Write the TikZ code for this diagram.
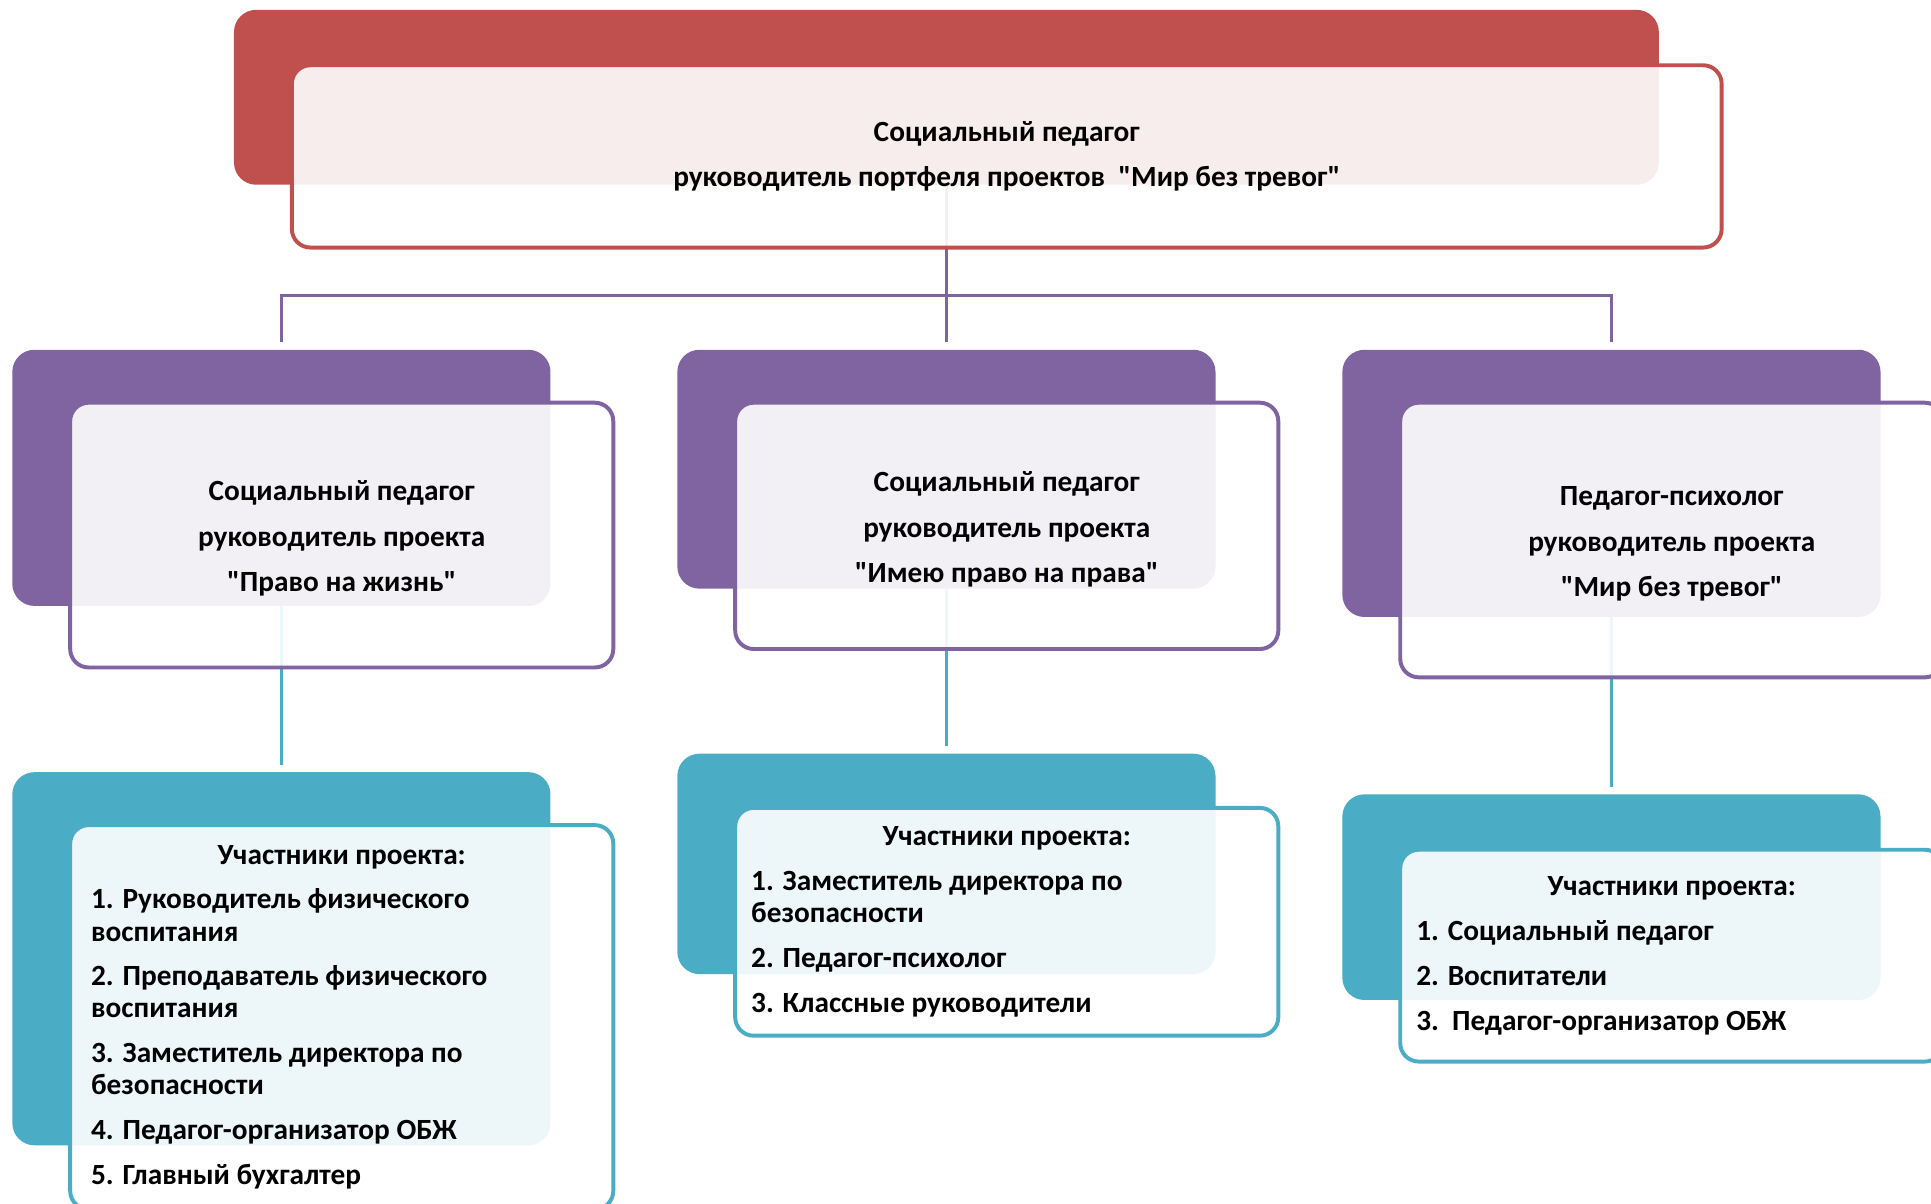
\documentclass[tikz,border=0pt]{standalone}
\usepackage{fontspec}
\newfontfamily\cfont{Carlito}
\usetikzlibrary{backgrounds}
\definecolor{cred}{HTML}{C0504D}
\definecolor{cpurp}{HTML}{8064A2}
\definecolor{cteal}{HTML}{4BACC6}
\newcommand{\headfont}{\cfont\fontsize{23.8}{37}\selectfont\bfseries}
\newcommand{\listfont}{\cfont\fontsize{23.8}{26}\selectfont\bfseries}
\newcommand{\upstrut}{\rule{0pt}{22pt}}
\begin{document}
\begin{tikzpicture}[x=1pt,y=-1pt,
  darkbox/.style={rectangle, rounded corners=18pt, minimum width=437pt, inner sep=0pt, outer sep=0pt},
  framebox/.style={rectangle, rounded corners=15pt, line width=3.2pt, fill=white, fill opacity=0.9, text opacity=1, inner sep=0pt, outer sep=0pt, minimum width=441pt},
  headbox/.style={framebox, align=center, font=\headfont},
  listbox/.style={framebox, font=\listfont},
  conp/.style={draw=cpurp, line width=3pt},
  cont/.style={draw=cteal, line width=3pt}]
\path[use as bounding box, clip] (0,0) rectangle (1568,977);

% top
\node[darkbox, fill=cred, minimum width=1157pt, minimum height=142pt] (topdark) at (768.5,79) {};
\node[headbox, draw=cred, minimum width=1161pt, minimum height=148pt] (topbox) at (817.5,127)
  {Социальный педагог\\руководитель портфеля проектов\ \ "Мир без тревог"};

% middle
\node[darkbox, fill=cpurp, minimum height=208pt] (m1dark) at (228.5,388) {};
\node[headbox, draw=cpurp, minimum height=215pt] (m1box) at (277.5,434.5)
  {\upstrut Социальный педагог\\руководитель проекта\\"Право на жизнь"};
\node[darkbox, fill=cpurp, minimum height=194pt] (m2dark) at (768.5,381) {};
\node[headbox, draw=cpurp, minimum height=200pt] (m2box) at (817.5,427)
  {\upstrut Социальный педагог\\руководитель проекта\\"Имею право на права"};
\node[darkbox, fill=cpurp, minimum height=217pt] (m3dark) at (1308.5,392.5) {};
\node[headbox, draw=cpurp, minimum height=223pt] (m3box) at (1357.5,438.5)
  {\upstrut Педагог-психолог\\руководитель проекта\\"Мир без тревог"};

% bottom
\node[darkbox, fill=cteal, minimum height=303pt] (b1dark) at (228.5,778.5) {};
\node[listbox, draw=cteal, minimum height=312pt] (b1box) at (277.5,826)
  {\parbox{407pt}{\listfont\setlength{\parskip}{10.5pt}\centering Участники проекта:\par
   \raggedright 1. Руководитель физического\newline воспитания\par
   2. Преподаватель физического\newline воспитания\par
   3. Заместитель директора по\newline безопасности\par
   4. Педагог-организатор ОБЖ\par
   5. Главный бухгалтер\par}};
\node[darkbox, fill=cteal, minimum height=179pt] (b2dark) at (768.5,701.5) {};
\node[listbox, draw=cteal, minimum height=185pt] (b2box) at (817.5,748.5)
  {\parbox{415pt}{\listfont\setlength{\parskip}{10.5pt}\centering Участники проекта:\par
   \raggedright 1. Заместитель директора по\newline безопасности\par
   2. Педагог-психолог\par
   3. Классные руководители\par}};
\node[darkbox, fill=cteal, minimum height=167pt] (b3dark) at (1308.5,728.5) {};
\node[listbox, draw=cteal, minimum height=172pt] (b3box) at (1357.5,776)
  {\parbox{415pt}{\listfont\setlength{\parskip}{10.5pt}\centering Участники проекта:\par
   \raggedright 1. Социальный педагог\par
   2. Воспитатели\par
   3.\ \ Педагог-организатор ОБЖ\par}};

\begin{scope}[on background layer]
  \coordinate (hub) at (768.5,240);
  \draw[conp] (topdark.south) -- (hub);
  \draw[conp, shorten >=6pt] (hub) -| (m1dark.north);
  \draw[conp, shorten >=6pt] (hub) -| (m3dark.north);
  \draw[conp, shorten >=6pt] (hub) -- (m2dark.north);
  \draw[cont, shorten >=6pt] (m1dark.south) -- (b1dark.north);
  \draw[cont, shorten >=6pt] (m2dark.south) -- (b2dark.north);
  \draw[cont, shorten >=6pt] (m3dark.south) -- (b3dark.north);
\end{scope}
\end{tikzpicture}
\end{document}
